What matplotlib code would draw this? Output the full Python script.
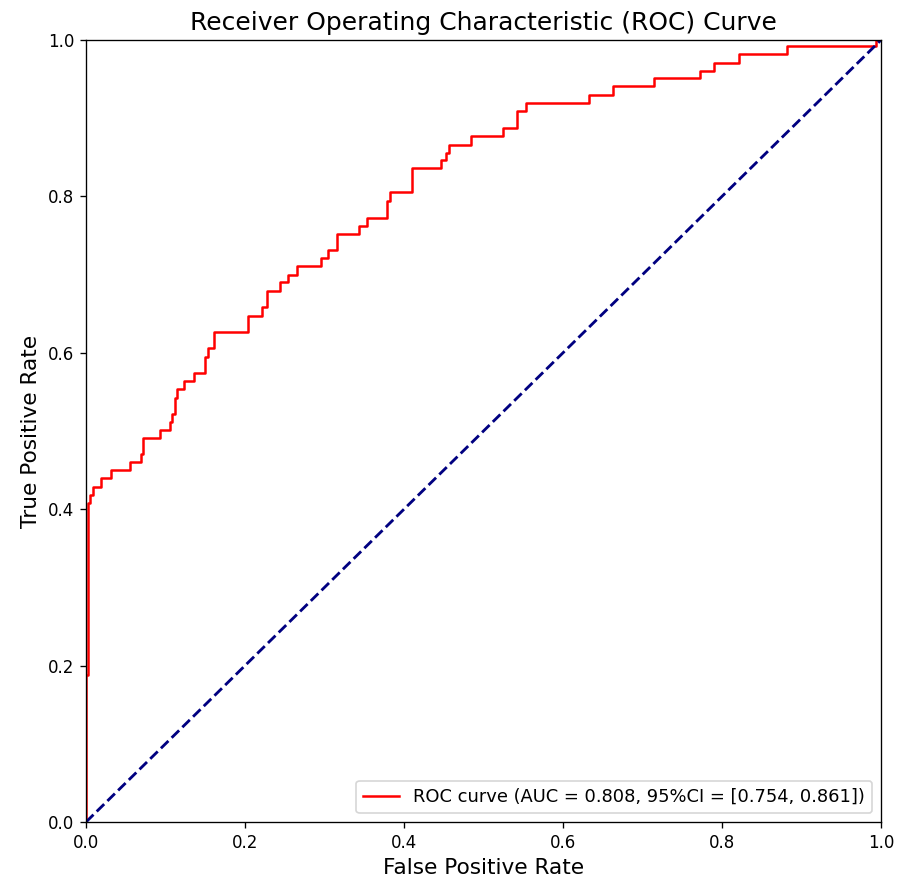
import matplotlib
matplotlib.use("Agg")
import matplotlib.pyplot as plt

fpr = [0.0, 0.0, 0.0025, 0.005, 0.0084, 0.019, 0.0314, 0.0553, 0.0688, 0.0721,
       0.093, 0.1057, 0.1086, 0.112, 0.114, 0.1237, 0.136, 0.1497, 0.154, 0.161,
       0.204, 0.221, 0.228, 0.244, 0.2545, 0.265, 0.295, 0.305, 0.316, 0.344,
       0.353, 0.379, 0.382, 0.410, 0.4465, 0.453, 0.456, 0.484, 0.525, 0.542,
       0.554, 0.633, 0.663, 0.714, 0.772, 0.790, 0.822, 0.882, 0.994, 1.0]
tpr = [0.0, 0.188, 0.408, 0.418, 0.429, 0.4395, 0.450, 0.460, 0.4706, 0.491,
       0.501, 0.512, 0.522, 0.5426, 0.5537, 0.564, 0.5746, 0.595, 0.6057, 0.627,
       0.647, 0.658, 0.679, 0.690, 0.700, 0.711, 0.721, 0.732, 0.7515, 0.7625,
       0.773, 0.794, 0.805, 0.836, 0.8465, 0.856, 0.866, 0.877, 0.888, 0.909,
       0.920, 0.930, 0.941, 0.951, 0.960, 0.971, 0.982, 0.992, 1.0, 1.0]

auc_label = "ROC curve (AUC = 0.808, 95%CI = [0.754, 0.861])"

DPI = 120
fig = plt.figure(figsize=(897 / DPI, 880 / DPI), dpi=DPI)
ax = fig.add_axes([86/897, 1 - 822/880, (881-86)/897, (822-40)/880])
ax.plot(fpr, tpr, color="red", lw=1.5, drawstyle="steps-post", label=auc_label)
ax.plot([0, 1], [0, 1], color="navy", lw=1.7, linestyle="--")
ax.set_xlim(0.0, 1.0)
ax.set_ylim(0.0, 1.0)
ax.set_xlabel("False Positive Rate", fontsize=13)
ax.set_ylabel("True Positive Rate", fontsize=13)
ax.set_title("Receiver Operating Characteristic (ROC) Curve", fontsize=15)
ax.legend(loc="lower right", fontsize=10.7)
fig.savefig("out.png", dpi=DPI)
